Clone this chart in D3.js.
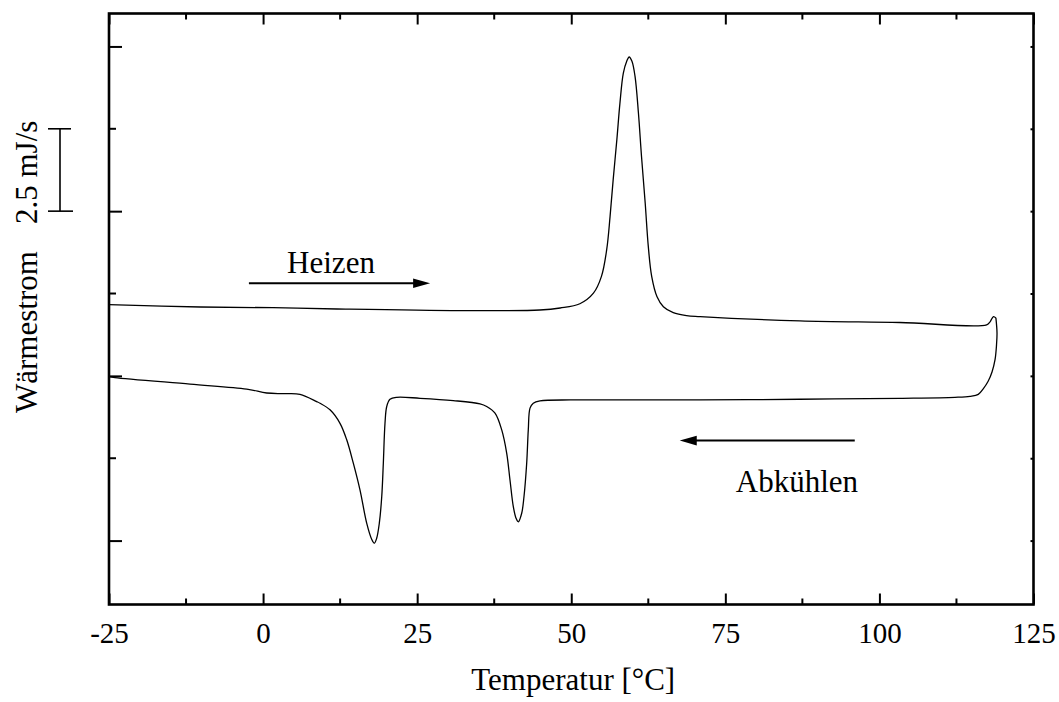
<!DOCTYPE html>
<html>
<head>
<meta charset="utf-8">
<script src="https://cdn.jsdelivr.net/npm/d3@7/dist/d3.min.js"></script>
<style>
  html, body { margin: 0; padding: 0; background: #fff; }
  svg { display: block; }
  text { font-family: "Liberation Serif", "Times New Roman", serif; fill: #000; }
</style>
</head>
<body>
<svg id="chart" width="1059" height="702"></svg>
<script>
// DSC scan: temperature in °C, heat flow in mJ/s (relative offset)
const heatingTemp = [-25, -10.2, 1.6, 12.0, 32.0, 44.9, 48.2, 51.4, 53.6, 54.9, 55.75, 56.3, 56.8, 57.4, 57.9, 58.45, 59.0, 59.4, 59.85, 60.35, 60.9, 61.4, 62.0, 62.5, 63.05, 63.9, 64.95, 66.55, 68.7, 70.9, 87.1, 103.3, 117.4, 117.95, 118.5, 118.9];
const heatingFlow = [2.16, 2.09, 2.07, 2.03, 1.98, 2.00, 2.06, 2.19, 2.51, 3.02, 3.83, 4.84, 5.95, 7.17, 8.28, 9.19, 9.55, 9.68, 9.55, 9.09, 7.98, 6.66, 5.24, 3.93, 3.02, 2.41, 2.10, 1.92, 1.83, 1.80, 1.67, 1.62, 1.55, 1.64, 1.80, 1.76];

const coolingTemp = [118.9, 119.08, 119.0, 118.76, 118.27, 117.62, 116.81, 116.04, 114.7, 112.26, 103.34, 87.11, 70.89, 54.66, 49.8, 44.93, 43.84, 43.31, 43.03, 42.77, 42.33, 41.96, 41.41, 41.04, 40.6, 40.06, 39.53, 38.72, 37.63, 36.28, 35.2, 30.86, 25.46, 21.68, 20.59, 20.06, 19.78, 19.51, 19.25, 18.86, 18.43, 18.04, 17.62, 16.81, 15.72, 14.64, 13.57, 12.48, 10.86, 9.24, 8.7, 5.99, 3.3, 0.59, -2.66, -11.86, -24.03, -25];
const coolingFlow = [1.76, 1.31, 0.94, 0.49, 0.12, -0.17, -0.40, -0.56, -0.62, -0.65, -0.68, -0.71, -0.73, -0.73, -0.73, -0.76, -0.83, -0.98, -1.64, -2.65, -3.67, -4.17, -4.43, -4.32, -3.97, -3.16, -2.35, -1.64, -1.13, -0.93, -0.85, -0.75, -0.68, -0.65, -0.71, -0.93, -1.44, -2.65, -3.67, -4.47, -4.93, -5.08, -4.96, -4.47, -3.46, -2.65, -1.94, -1.44, -1.03, -0.83, -0.78, -0.56, -0.54, -0.52, -0.40, -0.25, -0.05, -0.02];

const xTickValues = [-25, 0, 25, 50, 75, 100, 125];
const xMinorValues = [-12.5, 12.5, 37.5, 62.5, 87.5, 112.5];
const yMajorValues = [-5, 0, 5, 10];
const yMinorValues = [-2.5, 2.5, 7.5];

const svg = d3.select("#chart");
const W = 1059, H = 702;
const plotLeft = 109, plotRight = 1033.5, plotTop = 13.5, plotBottom = 604.5;

const x = d3.scaleLinear().domain([-25, 125]).range([plotLeft, plotRight]);
const y = d3.scaleLinear().domain([-6.94, 11.0]).range([plotBottom, plotTop]);

svg.append("rect").attr("width", W).attr("height", H).attr("fill", "#fff");

const toPoints = (t, f) => t.map((d, i) => [d, f[i]]);
const line = d3.line()
  .x(d => x(d[0])).y(d => y(d[1]))
  .curve(d3.curveCatmullRom.alpha(0.5));

const traces = svg.append("g").attr("fill", "none").attr("stroke", "#000").attr("stroke-width", 1.3);
traces.append("path").attr("d", line(toPoints(heatingTemp, heatingFlow)));
traces.append("path").attr("d", line(toPoints(coolingTemp, coolingFlow)));

// Axes: bottom with labels, top mirrored, left long/short ticks, right small ticks
const axisBottom = d3.axisBottom(x).tickValues(xTickValues).tickSize(-11).tickPadding(18)
  .tickFormat(d => String(d));
const gB = svg.append("g").attr("transform", `translate(0,${plotBottom})`).call(axisBottom);
gB.attr("font-size", null).attr("font-family", null);
gB.selectAll(".tick text").attr("font-size", 29).attr("dy", 0).attr("y", 38.5);
gB.append("g").selectAll("line").data(xMinorValues).join("line")
  .attr("x1", d => x(d)).attr("x2", d => x(d)).attr("y1", 0).attr("y2", -6);

const axisTop = d3.axisTop(x).tickValues(xTickValues).tickSize(-11).tickFormat("");
const gT = svg.append("g").attr("transform", `translate(0,${plotTop})`).call(axisTop);
gT.append("g").selectAll("line").data(xMinorValues).join("line")
  .attr("x1", d => x(d)).attr("x2", d => x(d)).attr("y1", 0).attr("y2", 6);

const axisLeft = d3.axisLeft(y).tickValues(yMajorValues).tickSize(-13).tickFormat("");
const gL = svg.append("g").attr("transform", `translate(${plotLeft},0)`).call(axisLeft);
gL.append("g").selectAll("line").data(yMinorValues).join("line")
  .attr("y1", d => y(d)).attr("y2", d => y(d)).attr("x1", 0).attr("x2", 7);

const axisRight = d3.axisRight(y).tickValues(yMajorValues.concat(yMinorValues)).tickSize(-3).tickFormat("");
const gR = svg.append("g").attr("transform", `translate(${plotRight},0)`).call(axisRight);

[gB, gT, gL, gR].forEach(g => {
  g.select(".domain").remove();
  g.selectAll("line").attr("stroke", "#000").attr("stroke-width", 2);
});

// frame
svg.append("rect")
  .attr("x", plotLeft).attr("y", plotTop)
  .attr("width", plotRight - plotLeft).attr("height", plotBottom - plotTop)
  .attr("fill", "none").attr("stroke", "#000").attr("stroke-width", 2.6);

// axis titles
svg.append("text")
  .attr("x", (plotLeft + plotRight) / 2 + 2).attr("y", 690)
  .attr("text-anchor", "middle").attr("font-size", 31)
  .text("Temperatur [°C]");

svg.append("text")
  .attr("transform", "translate(37,413) rotate(-90)")
  .attr("font-size", 31)
  .text("Wärmestrom");
svg.append("text")
  .attr("transform", "translate(37,224) rotate(-90)")
  .attr("font-size", 31)
  .text("2.5 mJ/s");

// 2.5 mJ/s scale bar
const barX = 60;
const bar = svg.append("g").attr("stroke", "#000").attr("stroke-width", 1.6);
bar.append("line").attr("x1", barX).attr("x2", barX).attr("y1", y(7.5)).attr("y2", y(5));
bar.append("line").attr("x1", barX - 12).attr("x2", barX + 11).attr("y1", y(7.5)).attr("y2", y(7.5));
bar.append("line").attr("x1", barX - 12).attr("x2", barX + 13).attr("y1", y(5)).attr("y2", y(5));

// direction arrows with labels
function arrow(t0, t1, v) {
  const x0 = x(t0), x1 = x(t1), yy = y(v);
  const dir = Math.sign(x1 - x0), head = 17, half = 4.8;
  svg.append("line").attr("x1", x0).attr("x2", x1 - dir * head + dir * 1)
    .attr("y1", yy).attr("y2", yy).attr("stroke", "#000").attr("stroke-width", 2);
  svg.append("path")
    .attr("d", `M${x1},${yy} L${x1 - dir * head},${yy - half} L${x1 - dir * head},${yy + half} Z`)
    .attr("fill", "#000");
}
arrow(-2.3, 27.1, 2.81);
svg.append("text").attr("x", x(3.9)).attr("y", 273).attr("font-size", 31).text("Heizen");

arrow(96.0, 67.6, -1.965);
svg.append("text").attr("x", x(76.7)).attr("y", 492).attr("font-size", 31).text("Abkühlen");
</script>
</body>
</html>
